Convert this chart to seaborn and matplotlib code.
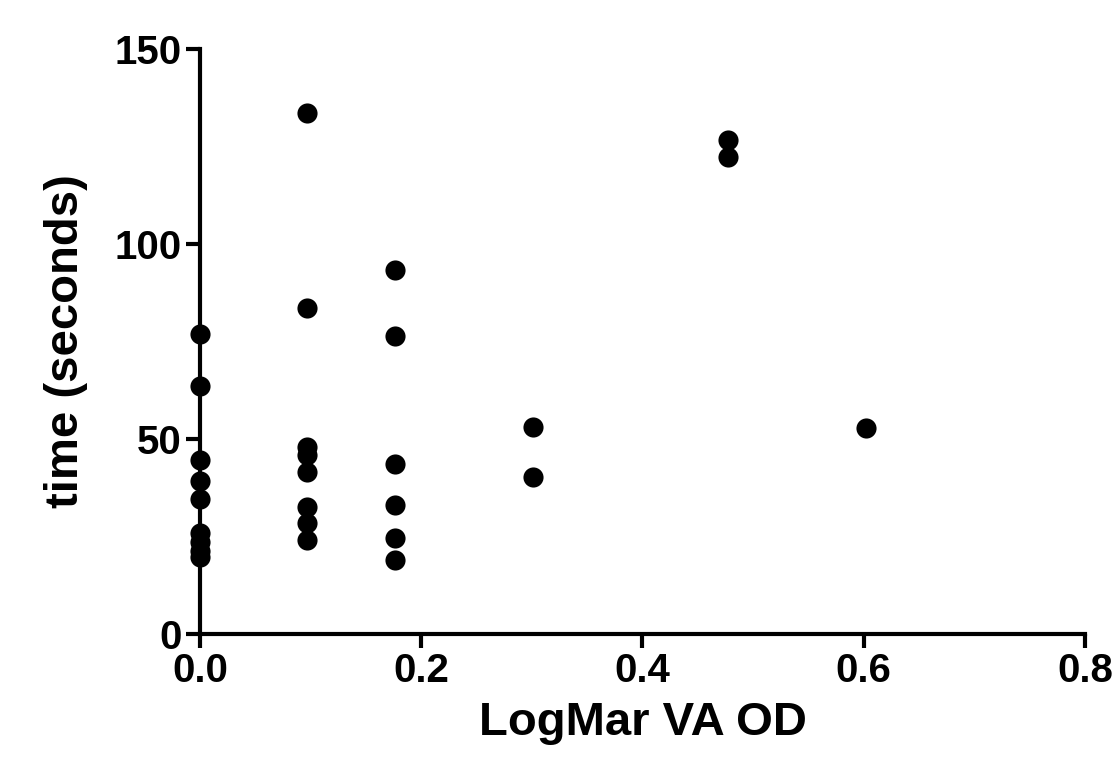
import numpy as np
import pandas as pd
import seaborn as sns
import matplotlib.pyplot as plt

# =============================================================================
# Data
# =============================================================================

va_000 = [77.0, 63.5, 44.6, 39.2, 34.6, 26.0, 23.5, 21.3, 19.7]
va_010 = [133.5, 83.5, 48.0, 46.0, 41.5, 32.5, 28.5, 24.0]
va_018 = [93.3, 76.3, 43.7, 33.1, 24.7, 19.0]
va_030 = [53.1, 40.3]
va_048 = [126.7, 122.3]
va_060 = [52.8]

logmar_levels = [0.0, 0.097, 0.176, 0.301, 0.477, 0.602]
times = [va_000, va_010, va_018, va_030, va_048, va_060]

x_ticks = [0.0, 0.2, 0.4, 0.6, 0.8]
y_ticks = [0, 50, 100, 150]

df = pd.DataFrame({
    "logmar": np.concatenate([[lv] * len(t) for lv, t in zip(logmar_levels, times)]),
    "time": np.concatenate(times),
})

# =============================================================================
# Plot
# =============================================================================

sns.set_style("ticks")
plt.rcParams['font.family'] = ['Liberation Sans', 'DejaVu Sans']
plt.rcParams['font.weight'] = 'bold'
plt.rcParams['text.color'] = 'black'
plt.rcParams['axes.labelcolor'] = 'black'

fig = plt.figure(figsize=(11.14, 7.71), dpi=100)
ax = fig.add_axes([0.1795, 0.1777, 0.974 - 0.1795, 0.9364 - 0.1777])

sns.scatterplot(data=df, x="logmar", y="time", ax=ax, color="black",
                s=210, linewidth=0, clip_on=False, zorder=3)

ax.set_xlim(0, 0.8)
ax.set_ylim(0, 150)
ax.set_xticks(x_ticks)
ax.set_yticks(y_ticks)
ax.set_xticklabels([f"{v:.1f}" for v in x_ticks])
ax.set_yticklabels([str(v) for v in y_ticks])

sns.despine(ax=ax)
for side in ["left", "bottom"]:
    ax.spines[side].set_linewidth(3)
    ax.spines[side].set_color("black")
ax.tick_params(axis="both", length=10, width=3, colors="black",
               labelcolor="black", labelsize=29, pad=3)
for lab in ax.get_xticklabels() + ax.get_yticklabels():
    lab.set_fontweight("bold")

ax.set_xlabel("LogMar VA OD", fontsize=34, fontweight="bold", labelpad=8,
              color="black")
ax.set_ylabel("time (seconds)", fontsize=34, fontweight="bold", labelpad=19,
              color="black")

fig.savefig("out.png", dpi=100, facecolor="white")
